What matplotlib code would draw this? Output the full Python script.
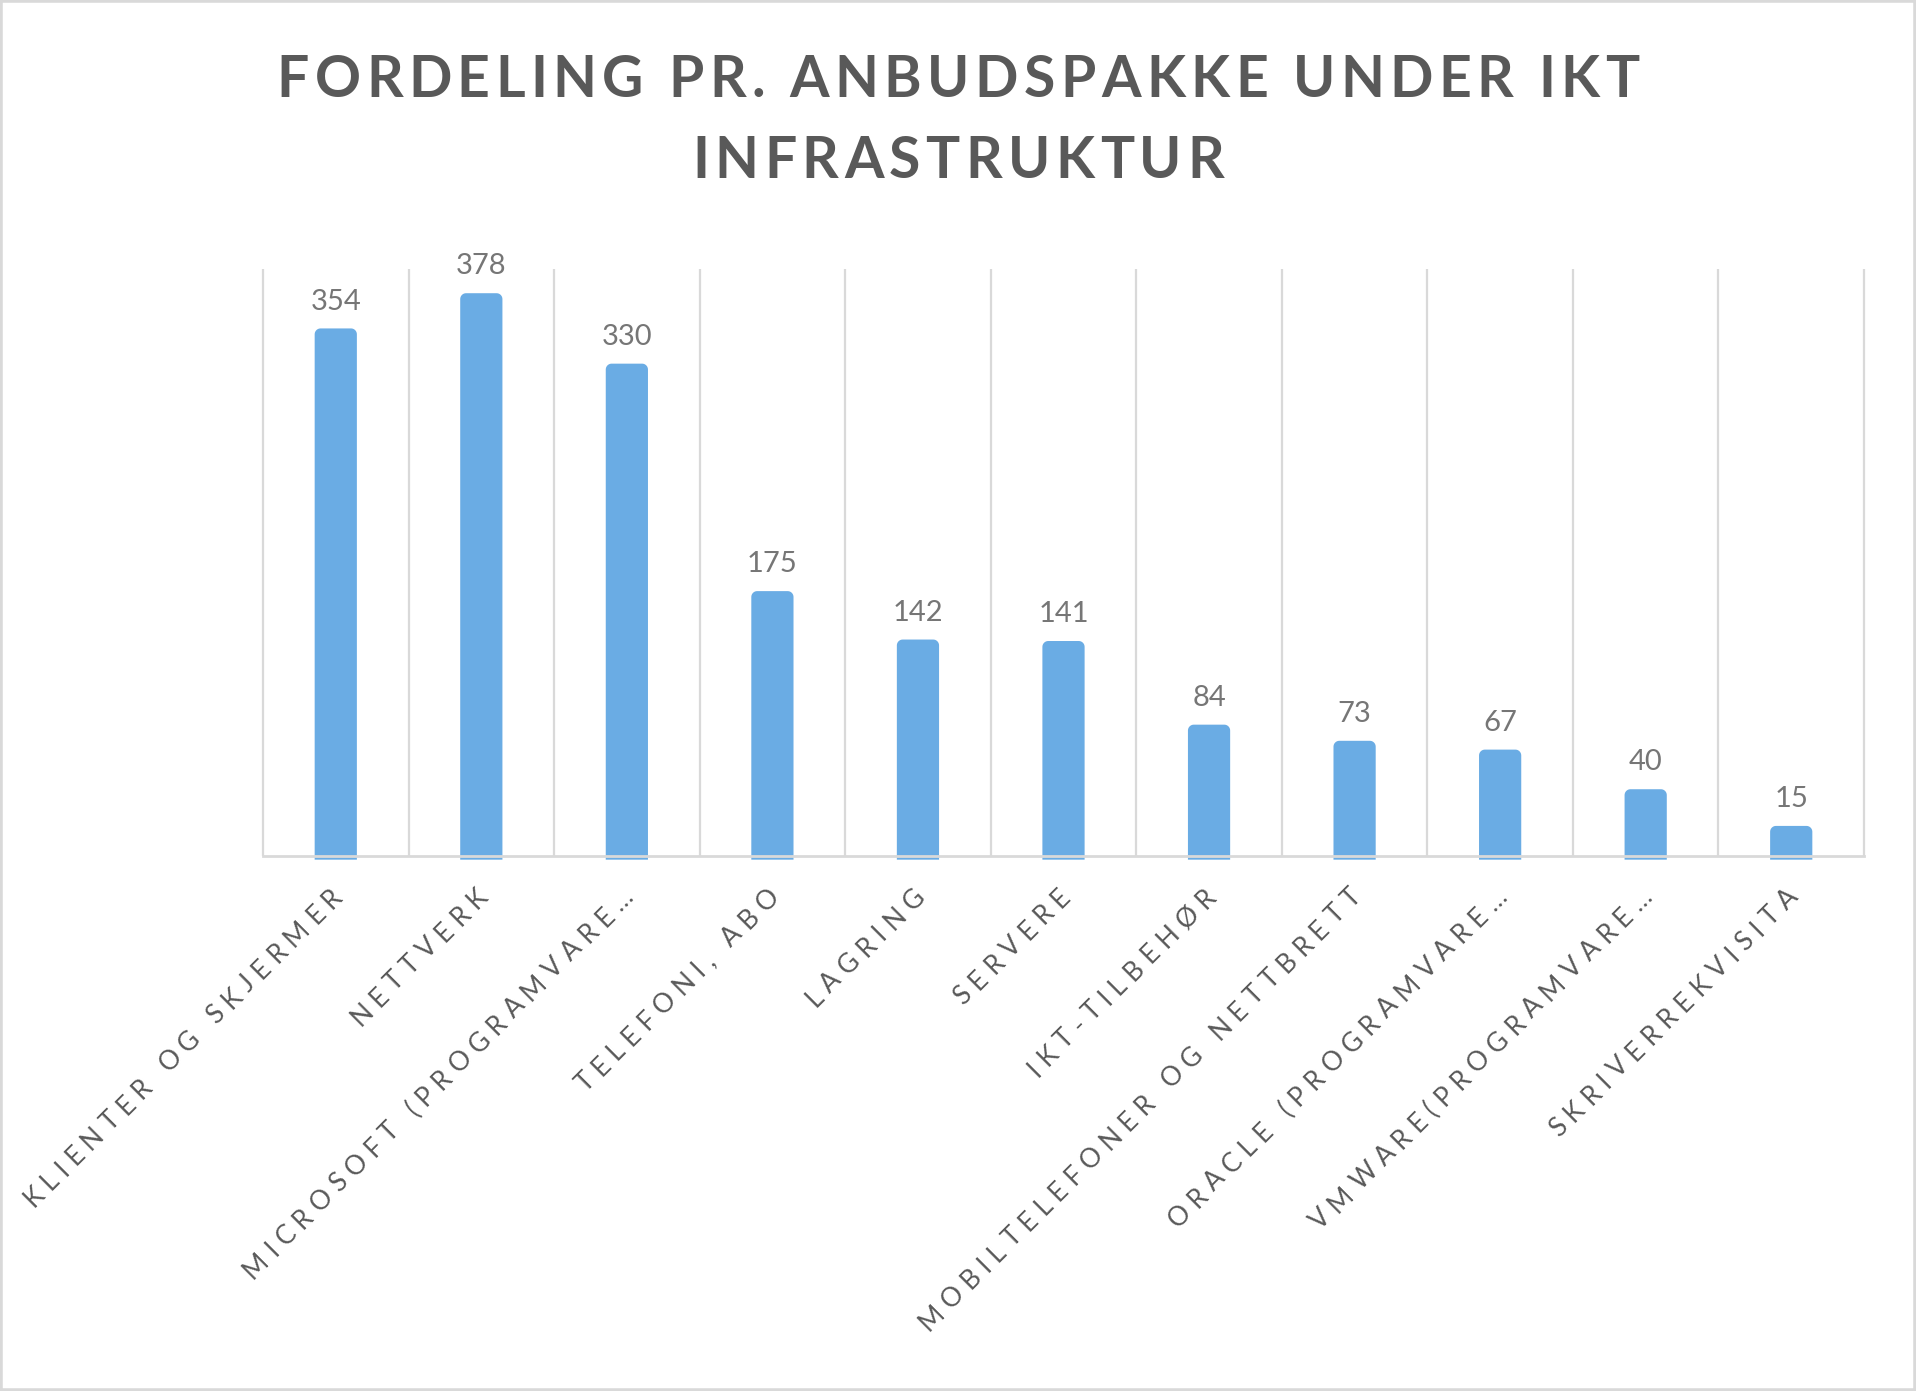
import numpy as np
import matplotlib.pyplot as plt
from matplotlib.patches import PathPatch, Rectangle
from matplotlib.path import Path
from matplotlib.font_manager import FontProperties
from matplotlib.textpath import text_to_path

categories = ['KLIENTER OG SKJERMER', 'NETTVERK', 'MICROSOFT (PROGRAMVARE…',
              'TELEFONI, ABO', 'LAGRING', 'SERVERE', 'IKT-TILBEHØR',
              'MOBILTELEFONER OG NETTBRETT', 'ORACLE (PROGRAMVARE…',
              'VMWARE(PROGRAMVARE…', 'SKRIVERREKVISITA']
values = [354, 378, 330, 175, 142, 141, 84, 73, 67, 40, 15]
title_lines = ['FORDELING PR. ANBUDSPAKKE UNDER IKT', 'INFRASTRUKTUR']

BAR = '#6aace4'
GRID = '#d9d9d9'
TXT = '#595959'
FONT = ['Lato', 'DejaVu Sans']
plt.rcParams['font.family'] = FONT

W, H = 1916, 1391
DPI = 100


def advance(s, prop):
    # pen advance of s in pixels (measured against a trailing 'H')
    if not s:
        return 0.0
    w0 = text_to_path.get_text_width_height_descent('H', prop, ismath=False)[0]
    w1 = text_to_path.get_text_width_height_descent(s + 'H', prop, ismath=False)[0]
    return (w1 - w0) * DPI / 72


def spaced_text(fig, x, y, s, size, sp, angle=0, align='left', weight='normal',
                color=TXT):
    # letter-spaced text, one Text per character; x, y in figure pixels
    prop = FontProperties(family=FONT, size=size, weight=weight)
    offs = [advance(s[:i], prop) + i * sp for i in range(len(s))]
    total = advance(s, prop) + (len(s) - 1) * sp
    shift = {'left': 0, 'center': total / 2, 'right': total}[align]
    c, sn = np.cos(np.radians(angle)), np.sin(np.radians(angle))
    for ch, o in zip(s, offs):
        if ch == ' ':
            continue
        d = o - shift
        fig.text((x + d * c) / W, (y + d * sn) / H, ch, rotation=angle,
                 rotation_mode='anchor', ha='left', va='baseline',
                 fontproperties=prop, color=color)


fig = plt.figure(figsize=(W / DPI, H / DPI), dpi=DPI)
ax = fig.add_axes([263 / W, 1 - 856 / H, (1864 - 263) / W, (856 - 269) / H])

x = np.arange(len(values))
ymin, ymax = -5.5, 394.5
ax.set_xlim(-0.5, len(values) - 0.5)
ax.set_ylim(ymin, ymax)

bars = ax.bar(x, values, width=0.29, color=BAR, zorder=2)

# swap plain rectangles for bars with rounded top corners
rx, ry = 0.04, 4.0
for r in bars:
    x0, w, h = r.get_x(), r.get_width(), r.get_height()
    x1 = x0 + w
    y0 = ymin - 2.5
    t = np.linspace(0, np.pi / 2, 10)
    left = [(x0 + rx - rx * np.cos(a), h - ry + ry * np.sin(a)) for a in t]
    right = [(x1 - rx + rx * np.sin(a), h - ry + ry * np.cos(a)) for a in t]
    verts = [(x0, y0)] + left + right + [(x1, y0), (x0, y0)]
    codes = [Path.MOVETO] + [Path.LINETO] * (len(verts) - 2) + [Path.CLOSEPOLY]
    ax.add_patch(PathPatch(Path(verts, codes), facecolor=BAR, edgecolor='none',
                           zorder=2, clip_on=False))
    r.set_visible(False)
    ax.annotate(str(h), (r.get_x() + w / 2, h), xytext=(0, 10),
                textcoords='offset points', ha='center', va='bottom',
                fontsize=21, color='#767676')

ax.vlines(np.arange(-0.5, len(values)), ymin, ymax, colors=GRID, lw=1.6,
          zorder=1, clip_on=False)
for s in ['top', 'left', 'right']:
    ax.spines[s].set_visible(False)
ax.spines['bottom'].set_color(GRID)
ax.spines['bottom'].set_linewidth(2)
ax.spines['bottom'].set_zorder(3)
ax.set_yticks([])
ax.set_xticks([])

# category labels, rotated 45 degrees, ending just right of each bar centre
for i, lab in enumerate(categories):
    px, py = ax.transData.transform((i, ymin))
    spaced_text(fig, px + 8, py - 42, lab, 19, 7, angle=45, align='right')

spaced_text(fig, W / 2, H - 97, title_lines[0], 41, 5.5, align='center',
            weight='bold')
spaced_text(fig, W / 2, H - 178, title_lines[1], 41, 5.5, align='center',
            weight='bold')

fig.patches.append(Rectangle((0, 0), 1, 1, transform=fig.transFigure,
                             fill=False, edgecolor=GRID, lw=4))

fig.savefig('out.png', dpi=DPI)
